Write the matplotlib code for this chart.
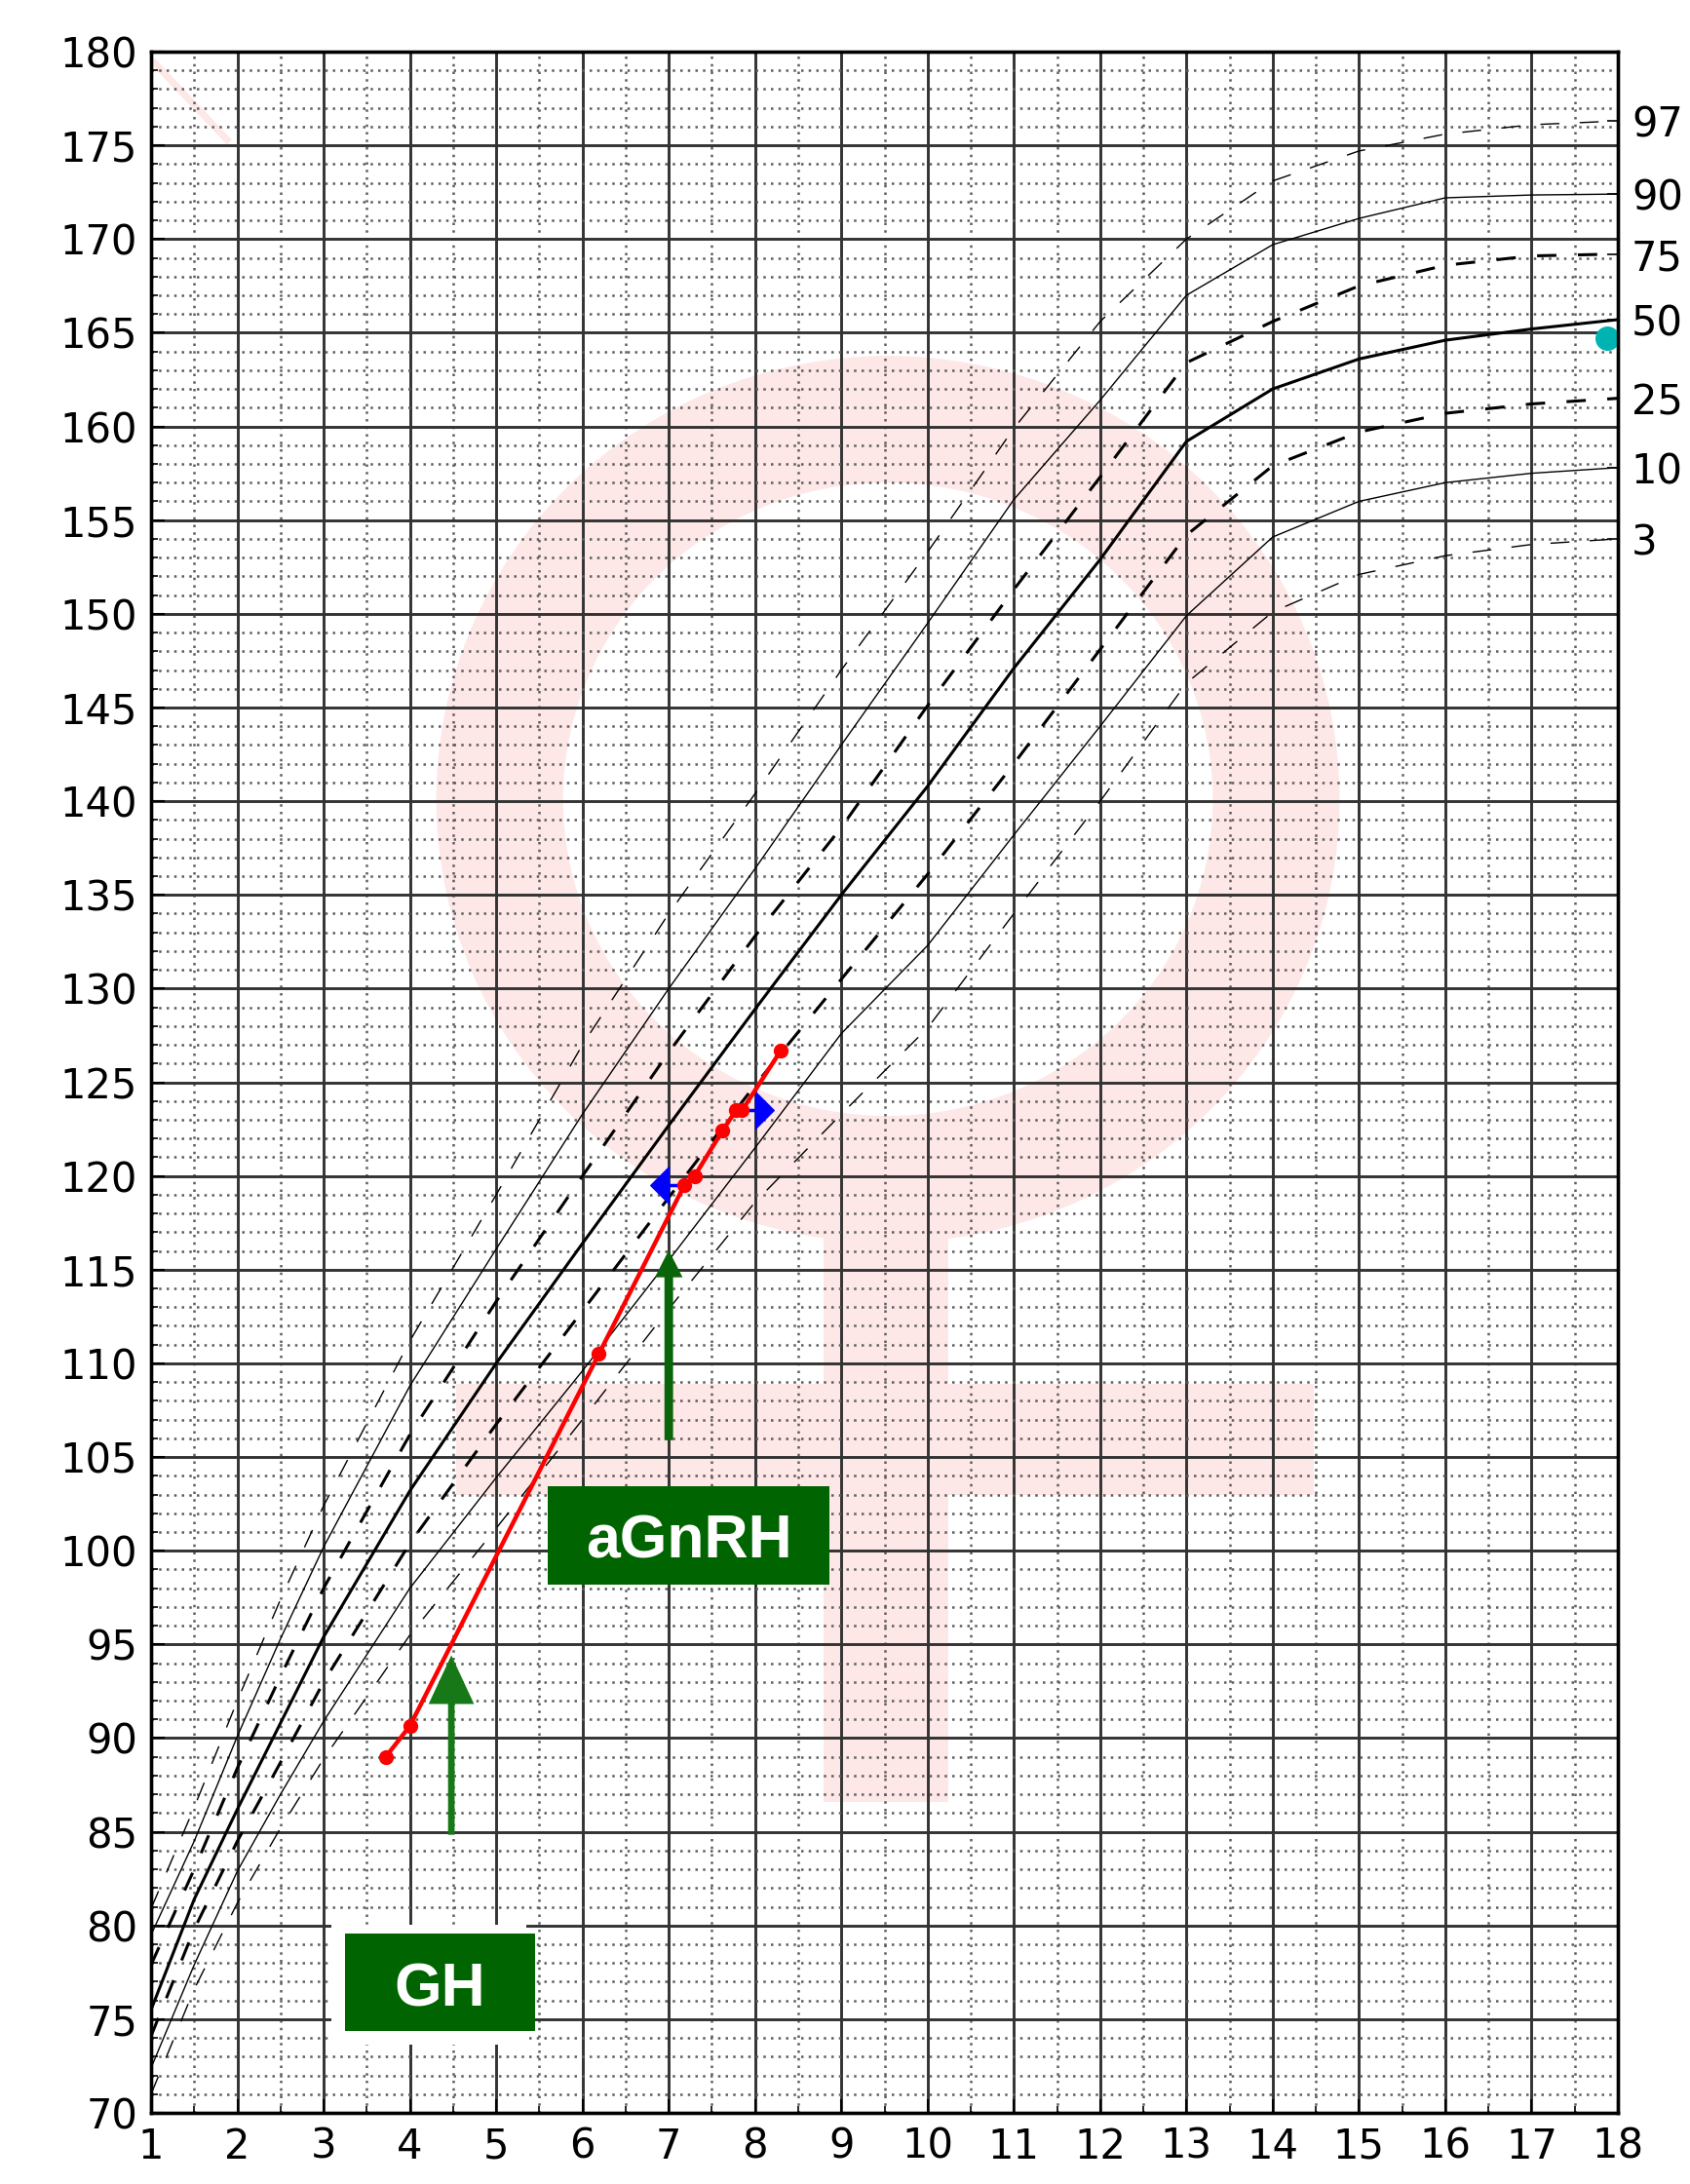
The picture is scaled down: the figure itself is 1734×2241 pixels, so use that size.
import matplotlib
matplotlib.use('Agg')
import matplotlib.pyplot as plt
from matplotlib.patches import Ellipse, Rectangle, FancyArrow
from matplotlib.ticker import MultipleLocator
from matplotlib.path import Path

# ---------------- data ----------------
ages = [1, 1.5, 2, 2.5, 3, 4, 5, 6, 7, 8, 9, 10, 11, 12, 13, 14, 15, 16, 17, 18]
p97 = [80.9, 86.3, 92.0, 97.4, 102.4, 111.2, 119.0, 127.0, 134.0, 140.4, 147.0, 153.3, 159.9, 165.6, 170.0, 173.1, 174.7, 175.6, 176.1, 176.3]
p90 = [79.5, 84.5, 90.1, 95.3, 100.2, 108.8, 116.1, 123.3, 130.0, 136.4, 143.0, 149.5, 156.1, 161.4, 167.0, 169.7, 171.1, 172.2, 172.35, 172.4]
p75 = [77.9, 83.0, 88.4, 93.3, 98.0, 106.2, 113.3, 120.0, 126.6, 132.8, 138.6, 145.1, 151.3, 157.3, 163.4, 165.6, 167.5, 168.6, 169.1, 169.2]
p50 = [75.5, 81.4, 86.2, 90.8, 95.4, 103.2, 110.0, 116.4, 122.7, 128.9, 135.0, 140.8, 147.1, 152.9, 159.2, 162.0, 163.6, 164.6, 165.2, 165.7]
p25 = [74.1, 79.8, 84.5, 88.7, 93.0, 100.4, 106.75, 112.8, 118.85, 124.85, 130.5, 136.1, 142.0, 148.1, 154.2, 157.9, 159.7, 160.7, 161.2, 161.5]
p10 = [72.4, 77.9, 82.9, 87.0, 90.9, 98.0, 103.9, 109.6, 115.5, 121.5, 127.6, 132.3, 138.2, 144.0, 149.9, 154.1, 156.0, 157.0, 157.5, 157.8]
p3 = [71.0, 76.6, 81.2, 85.2, 88.9, 95.5, 101.2, 107.0, 112.9, 118.6, 123.3, 127.9, 134.0, 140.0, 146.3, 150.1, 152.1, 153.1, 153.7, 154.0]
percentile_labels = ['97', '90', '75', '50', '25', '10', '3']

patient_age = [3.72, 4.0, 6.19, 7.18, 7.30, 7.62, 7.78, 7.85, 8.30]
patient_height = [89.0, 90.65, 110.5, 119.5, 120.0, 122.4, 123.5, 123.5, 126.7]

bone_age_left = [7.0, 7.18]
bone_height_left = [119.5, 119.5]
bone_age_right = [7.85, 8.0]
bone_height_right = [123.5, 123.5]

final_age = [17.88]
final_height = [164.7]

x_ticks = list(range(1, 19))
y_ticks = list(range(70, 181, 5))

# ---------------- figure ----------------
W, H, DPI = 1734, 2241, 100
fig = plt.figure(figsize=(W / DPI, H / DPI), dpi=DPI)
L, R, T, B = 155, 1660, 53, 2168
ax = fig.add_axes([L / W, 1 - B / H, (R - L) / W, (B - T) / H])
ax.set_xlim(1, 18)
ax.set_ylim(70, 180)

pink = '#fde7e7'
# watermark (female symbol)
ax.add_patch(Ellipse((9.54, 140.1), width=2 * 4.5, height=2 * 20.28, fill=False,
                     edgecolor=pink, lw=93.6, zorder=0.1))
ax.plot([9.52, 9.52], [121, 86.6], color=pink, lw=92, solid_capstyle='butt', zorder=0.1)
ax.plot([4.54, 14.48], [105.94, 105.94], color=pink, lw=82, solid_capstyle='butt', zorder=0.1)
ax.plot([1.04, 1.88], [179.4, 175.3], color=pink, lw=5, zorder=0.1)

# grid
ax.set_axisbelow(True)
ax.xaxis.set_major_locator(MultipleLocator(1))
ax.xaxis.set_minor_locator(MultipleLocator(0.5))
ax.yaxis.set_major_locator(MultipleLocator(5))
ax.yaxis.set_minor_locator(MultipleLocator(1))
ax.set_xticks(x_ticks)
ax.set_yticks(y_ticks)
ax.grid(which='minor', color='#5e5e5e', lw=1.8, linestyle=(0, (1, 2.1)))
ax.grid(which='major', color='#333333', lw=2.1, linestyle='-')

# percentile curves
thin, thick = 1.0, 2.2
ax.plot(ages, p97, color='black', lw=thin, linestyle=(0, (14, 15)), zorder=2)
ax.plot(ages, p90, color='black', lw=thin, zorder=2)
ax.plot(ages, p75, color='black', lw=thick, linestyle=(0, (6.5, 7.2)), zorder=2)
ax.plot(ages, p50, color='black', lw=thick, zorder=2)
ax.plot(ages, p25, color='black', lw=thick, linestyle=(0, (6.5, 7.2)), zorder=2)
ax.plot(ages, p10, color='black', lw=thin, zorder=2)
ax.plot(ages, p3, color='black', lw=thin, linestyle=(0, (14, 15)), zorder=2)

# bone age markers (half diamonds)
left_half = Path([(0, 1), (-1, 0), (0, -1), (0, 1)],
                 [Path.MOVETO, Path.LINETO, Path.LINETO, Path.CLOSEPOLY])
right_half = Path([(0, 1), (1, 0), (0, -1), (0, 1)],
                  [Path.MOVETO, Path.LINETO, Path.LINETO, Path.CLOSEPOLY])
ax.plot(bone_age_left, bone_height_left, color='blue', lw=2.5, zorder=4)
ax.plot(bone_age_right, bone_height_right, color='blue', lw=2.5, zorder=4)
ax.plot([bone_age_left[0]], [bone_height_left[0]], marker=left_half, ms=27,
        color='blue', mec='blue', lw=0, zorder=4)
ax.plot([bone_age_right[-1]], [bone_height_right[-1]], marker=right_half, ms=27,
        color='blue', mec='blue', lw=0, zorder=4)

# patient data
ax.plot(patient_age, patient_height, '-o', color='red', lw=3.2, ms=10, zorder=6)
ax.plot(final_age, final_height, 'o', color='#00b3b3', ms=17, clip_on=False, zorder=6)

# arrows
ax.add_patch(FancyArrow(4.48, 84.84, 0, 94.42 - 84.84, width=0.076, head_width=0.526,
                        head_length=2.6, length_includes_head=True,
                        color='#167816', lw=0, zorder=5))
ax.add_patch(FancyArrow(7.0, 105.9, 0, 116.04 - 105.9, width=0.10, head_width=0.32,
                        head_length=1.45, length_includes_head=True,
                        color='#0a640a', lw=0, zorder=5))

# labels
ax.add_patch(Rectangle((3.09, 73.66), 5.35 - 3.09, 80.05 - 73.66, facecolor='white',
                       edgecolor='none', zorder=3))
ax.add_patch(Rectangle((3.248, 74.37), 5.45 - 3.248, 79.57 - 74.37, facecolor='#006400',
                       edgecolor='none', zorder=7))
ax.text((3.248 + 5.45) / 2, 75.72, 'GH', color='white', fontsize=45, fontweight='bold',
        family=['Liberation Sans', 'DejaVu Sans'], ha='center', va='baseline', zorder=8)
ax.add_patch(Rectangle((5.597, 98.19), 8.862 - 5.597, 103.44 - 98.19, facecolor='#006400',
                       edgecolor='none', zorder=7))
ax.text((5.597 + 8.862) / 2, 99.64, 'aGnRH', color='white', fontsize=45, fontweight='bold',
        family=['Liberation Sans', 'DejaVu Sans'], ha='center', va='baseline', zorder=8)

# ticks
ax.tick_params(which='both', direction='in', top=False, right=False, labelsize=30)
ax.tick_params(which='major', length=10, width=1.5, pad=10)
ax.tick_params(which='minor', length=5, width=1.2)
for s in ax.spines.values():
    s.set_linewidth(2.4)

ax2 = ax.twinx()
ax2.set_ylim(70, 180)
ends = [p97[-1], p90[-1], p75[-1], p50[-1], p25[-1], p10[-1], p3[-1]]
ax2.set_yticks(ends)
ax2.set_yticklabels(percentile_labels)
ax2.tick_params(direction='in', length=8, width=1.2, labelsize=30, pad=10)
ax2.yaxis.set_minor_locator(plt.NullLocator())
for s in ax2.spines.values():
    s.set_linewidth(2.4)

fig.savefig('out.png', dpi=DPI, facecolor='white')
